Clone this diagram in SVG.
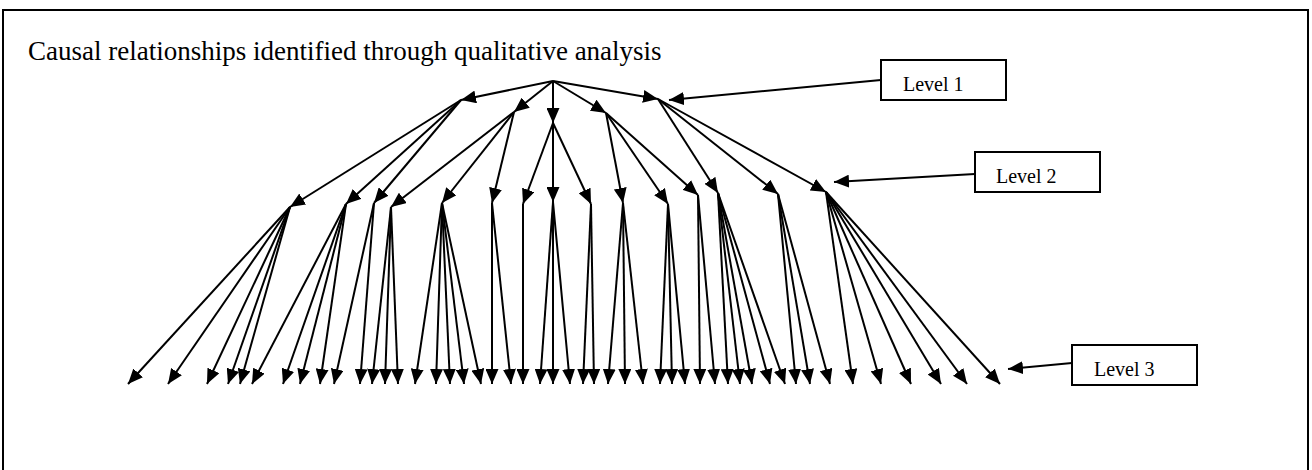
<svg xmlns="http://www.w3.org/2000/svg" width="1312" height="470" viewBox="0 0 1312 470">
  <style>
    .frame { fill: none; stroke: #000; stroke-width: 2; }
    .box { fill: #fff; stroke: #000; stroke-width: 2; }
    .title { font-family: "Liberation Serif", "Times New Roman", serif; font-size: 27px; fill: #000; }
    .lbl { font-family: "Liberation Serif", "Times New Roman", serif; font-size: 20px; fill: #000; }
    .edge line { stroke: #000; stroke-width: 2; marker-end: url(#head); }
  </style>
  <defs>
    <marker id="head" viewBox="0 0 15 13" refX="15" refY="6.5" markerWidth="15" markerHeight="13" orient="auto" markerUnits="userSpaceOnUse">
      <path d="M0,0 L15,6.5 L0,13 z" fill="#000"/>
    </marker>
  </defs>

  <rect class="frame" x="3" y="10" width="1305" height="500"/>
  <text class="title" x="28" y="60">Causal relationships identified through qualitative analysis</text>

  <!-- level labels -->
  <g id="level1">
    <rect class="box" x="881" y="60" width="125" height="40"/>
    <text class="lbl" x="903" y="91">Level 1</text>
  </g>
  <g id="level2">
    <rect class="box" x="975" y="152" width="125" height="40"/>
    <text class="lbl" x="996" y="183">Level 2</text>
  </g>
  <g id="level3">
    <rect class="box" x="1072" y="345" width="125" height="40"/>
    <text class="lbl" x="1094" y="376">Level 3</text>
  </g>

  <g id="connectors" class="edge">
    <!-- label pointers -->
    <line x1="881" y1="80" x2="669" y2="100"/>
    <line x1="975" y1="174" x2="834" y2="182"/>
    <line x1="1072" y1="363" x2="1008" y2="369"/>

    <!-- root to level 1 -->
    <line x1="553" y1="81" x2="461" y2="100"/>
    <line x1="553" y1="81" x2="514" y2="112"/>
    <line x1="553" y1="81" x2="553" y2="123"/>
    <line x1="553" y1="81" x2="606" y2="113"/>
    <line x1="553" y1="81" x2="658" y2="99"/>

    <!-- level 1 to level 2 -->
    <line x1="461" y1="100" x2="290" y2="207"/>
    <line x1="461" y1="100" x2="346" y2="204"/>
    <line x1="461" y1="100" x2="374" y2="203"/>
    <line x1="514" y1="112" x2="391" y2="207"/>
    <line x1="514" y1="112" x2="442" y2="203"/>
    <line x1="514" y1="112" x2="492" y2="203"/>
    <line x1="553" y1="123" x2="523" y2="204"/>
    <line x1="553" y1="123" x2="553" y2="202"/>
    <line x1="553" y1="123" x2="591" y2="204"/>
    <line x1="606" y1="113" x2="623" y2="203"/>
    <line x1="606" y1="113" x2="668" y2="204"/>
    <line x1="606" y1="113" x2="698" y2="195"/>
    <line x1="658" y1="99" x2="718" y2="193"/>
    <line x1="658" y1="99" x2="778" y2="194"/>
    <line x1="658" y1="99" x2="826" y2="192"/>

    <!-- level 2 to level 3 -->
    <line x1="290" y1="207" x2="128" y2="384"/>
    <line x1="290" y1="207" x2="168" y2="384"/>
    <line x1="290" y1="207" x2="207" y2="384"/>
    <line x1="290" y1="207" x2="228" y2="384"/>
    <line x1="290" y1="207" x2="240" y2="384"/>

    <line x1="346" y1="204" x2="252" y2="384"/>
    <line x1="346" y1="204" x2="283" y2="384"/>
    <line x1="346" y1="204" x2="300" y2="384"/>
    <line x1="346" y1="204" x2="320" y2="384"/>

    <line x1="374" y1="203" x2="334" y2="384"/>
    <line x1="374" y1="203" x2="360" y2="384"/>

    <line x1="391" y1="207" x2="372" y2="384"/>
    <line x1="391" y1="207" x2="385" y2="384"/>
    <line x1="391" y1="207" x2="398" y2="384"/>

    <line x1="442" y1="203" x2="415" y2="384"/>
    <line x1="442" y1="203" x2="436" y2="384"/>
    <line x1="442" y1="203" x2="450" y2="384"/>
    <line x1="442" y1="203" x2="464" y2="384"/>
    <line x1="442" y1="203" x2="481" y2="384"/>

    <line x1="492" y1="203" x2="492" y2="384"/>
    <line x1="492" y1="203" x2="511" y2="384"/>

    <line x1="523" y1="204" x2="523" y2="384"/>

    <line x1="553" y1="202" x2="540" y2="384"/>
    <line x1="553" y1="202" x2="553" y2="384"/>
    <line x1="553" y1="202" x2="570" y2="384"/>

    <line x1="591" y1="204" x2="583" y2="384"/>
    <line x1="591" y1="204" x2="594" y2="384"/>

    <line x1="623" y1="203" x2="608" y2="384"/>
    <line x1="623" y1="203" x2="625" y2="384"/>
    <line x1="623" y1="203" x2="643" y2="384"/>

    <line x1="668" y1="204" x2="660" y2="384"/>
    <line x1="668" y1="204" x2="672" y2="384"/>
    <line x1="668" y1="204" x2="685" y2="384"/>

    <line x1="698" y1="195" x2="700" y2="384"/>
    <line x1="698" y1="195" x2="715" y2="384"/>

    <line x1="718" y1="193" x2="728" y2="384"/>
    <line x1="718" y1="193" x2="740" y2="384"/>
    <line x1="718" y1="193" x2="752" y2="384"/>
    <line x1="718" y1="193" x2="770" y2="384"/>
    <line x1="718" y1="193" x2="785" y2="384"/>

    <line x1="778" y1="194" x2="796" y2="384"/>
    <line x1="778" y1="194" x2="810" y2="384"/>
    <line x1="778" y1="194" x2="830" y2="384"/>

    <line x1="826" y1="192" x2="853" y2="384"/>
    <line x1="826" y1="192" x2="881" y2="384"/>
    <line x1="826" y1="192" x2="911" y2="384"/>
    <line x1="826" y1="192" x2="941" y2="384"/>
    <line x1="826" y1="192" x2="967" y2="384"/>
    <line x1="826" y1="192" x2="1000" y2="384"/>
  </g>
</svg>
